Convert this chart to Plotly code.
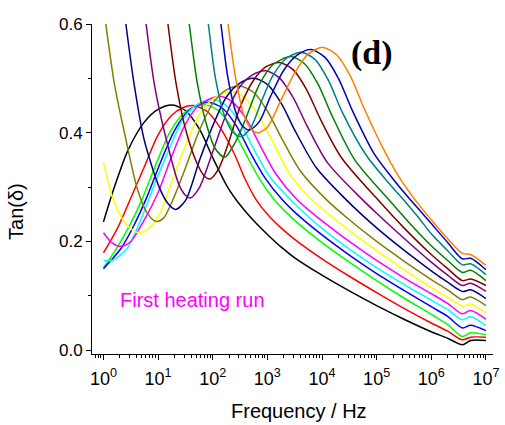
import plotly.graph_objects as go

# Dielectric loss tangent vs frequency, one isotherm per trace.
# Frequencies are stored as log10(f / Hz).

black_logf = [0.0, 0.2, 0.45, 0.75, 1.0, 1.26, 1.51, 1.76, 2.01, 2.26, 2.51, 2.76, 3.01, 3.26, 3.5, 4.0, 4.5, 5.0, 5.5, 6.0, 6.3, 6.57, 6.72, 7.0]
black_tan = [0.236, 0.300, 0.368, 0.420, 0.443, 0.451, 0.440, 0.406, 0.352, 0.302, 0.266, 0.237, 0.212, 0.189, 0.170, 0.138, 0.109, 0.082, 0.057, 0.034, 0.022, 0.010, 0.018, 0.018]

red_logf = [0.0, 0.25, 0.5, 0.75, 1.0, 1.25, 1.45, 1.65, 1.9, 2.15, 2.4, 2.6, 2.8, 3.0, 3.25, 3.5, 4.0, 4.5, 5.0, 5.5, 6.0, 6.3, 6.57, 6.72, 7.0]
red_tan = [0.179, 0.223, 0.280, 0.338, 0.396, 0.432, 0.446, 0.450, 0.439, 0.407, 0.360, 0.313, 0.276, 0.250, 0.225, 0.204, 0.168, 0.136, 0.106, 0.077, 0.050, 0.035, 0.019, 0.024, 0.024]

green_logf = [0.0, 0.2, 0.45, 0.7, 0.95, 1.2, 1.45, 1.65, 1.85, 2.1, 2.35, 2.6, 2.85, 3.1, 3.35, 3.6, 4.0, 4.5, 5.0, 5.5, 6.0, 6.3, 6.57, 6.72, 7.0]
green_tan = [0.152, 0.181, 0.224, 0.276, 0.339, 0.398, 0.434, 0.447, 0.452, 0.441, 0.409, 0.362, 0.316, 0.280, 0.253, 0.230, 0.198, 0.162, 0.128, 0.096, 0.066, 0.047, 0.025, 0.032, 0.0285]

blue_logf = [0.0, 0.32, 0.55, 0.8, 1.05, 1.3, 1.55, 1.75, 1.93, 2.18, 2.43, 2.68, 2.95, 3.27, 3.5, 4.0, 4.5, 5.0, 5.5, 6.0, 6.3, 6.57, 6.72, 7.0]
blue_tan = [0.150, 0.187, 0.228, 0.283, 0.347, 0.404, 0.440, 0.452, 0.456, 0.445, 0.413, 0.365, 0.318, 0.277, 0.254, 0.212, 0.175, 0.141, 0.110, 0.080, 0.062, 0.041, 0.046, 0.036]

cyan_logf = [0.0, 0.15, 0.3, 0.44, 0.7, 0.95, 1.2, 1.45, 1.7, 2.0, 2.25, 2.5, 2.75, 3.05, 3.42, 3.7, 4.0, 4.5, 5.0, 5.5, 6.0, 6.3, 6.57, 6.72, 7.0]
cyan_tan = [0.165, 0.165, 0.174, 0.188, 0.244, 0.309, 0.369, 0.424, 0.451, 0.461, 0.450, 0.418, 0.370, 0.318, 0.277, 0.250, 0.224, 0.186, 0.152, 0.121, 0.092, 0.075, 0.056, 0.062, 0.045]

magenta_logf = [0.0, 0.15, 0.32, 0.5, 0.75, 1.0, 1.25, 1.5, 1.75, 2.12, 2.37, 2.62, 2.87, 3.15, 3.54, 3.8, 4.0, 4.5, 5.0, 5.5, 6.0, 6.3, 6.57, 6.72, 7.0]
magenta_tan = [0.216, 0.198, 0.191, 0.200, 0.240, 0.290, 0.357, 0.416, 0.451, 0.467, 0.456, 0.424, 0.376, 0.325, 0.277, 0.254, 0.238, 0.200, 0.165, 0.133, 0.104, 0.086, 0.067, 0.073, 0.057]

yellow_logf = [0.0, 0.15, 0.3, 0.45, 0.65, 0.85, 1.05, 1.25, 1.5, 1.75, 2.0, 2.34, 2.59, 2.84, 3.09, 3.4, 3.78, 4.1, 4.5, 5.0, 5.5, 6.0, 6.3, 6.57, 6.72, 7.0]
yellow_tan = [0.345, 0.285, 0.250, 0.228, 0.216, 0.226, 0.255, 0.310, 0.376, 0.433, 0.462, 0.476, 0.464, 0.431, 0.385, 0.325, 0.280, 0.252, 0.220, 0.183, 0.148, 0.115, 0.097, 0.081, 0.085, 0.068]

olive_logf = [0.0, 0.043, 0.2, 0.384, 0.625, 0.8, 0.96, 1.1, 1.25, 1.5, 1.75, 2.0, 2.25, 2.5, 2.75, 3.0, 3.25, 3.6, 4.08, 4.5, 5.0, 5.5, 6.0, 6.3, 6.57, 6.72, 7.0]
olive_tan = [0.635, 0.600, 0.490, 0.400, 0.295, 0.252, 0.237, 0.243, 0.272, 0.335, 0.403, 0.454, 0.479, 0.486, 0.474, 0.440, 0.392, 0.330, 0.277, 0.240, 0.200, 0.164, 0.130, 0.111, 0.093, 0.098, 0.082]

navy_logf = [0.16, 0.29, 0.41, 0.56, 0.745, 1.02, 1.18, 1.32, 1.5, 1.76, 2.01, 2.26, 2.51, 2.76, 3.01, 3.26, 3.51, 3.9, 4.44, 5.0, 5.5, 6.0, 6.3, 6.57, 6.72, 7.0]
navy_tan = [0.82, 0.70, 0.600, 0.490, 0.387, 0.300, 0.270, 0.259, 0.275, 0.350, 0.415, 0.467, 0.492, 0.500, 0.488, 0.453, 0.403, 0.335, 0.277, 0.225, 0.184, 0.146, 0.125, 0.108, 0.111, 0.095]

purple_logf = [0.53, 0.66, 0.78, 0.93, 1.12, 1.38, 1.5, 1.59, 1.75, 2.0, 2.22, 2.47, 2.72, 2.97, 3.22, 3.47, 3.72, 4.1, 4.74, 5.0, 5.5, 6.0, 6.3, 6.57, 6.72, 7.0]
purple_tan = [0.82, 0.70, 0.600, 0.490, 0.400, 0.305, 0.285, 0.280, 0.298, 0.365, 0.427, 0.481, 0.506, 0.514, 0.501, 0.465, 0.414, 0.345, 0.277, 0.252, 0.206, 0.162, 0.138, 0.119, 0.123, 0.108]

wine_logf = [0.93, 1.06, 1.18, 1.33, 1.52, 1.72, 1.85, 1.95, 2.1, 2.3, 2.5, 2.75, 2.97, 3.22, 3.47, 3.72, 3.97, 4.35, 5.02, 5.5, 6.0, 6.3, 6.57, 6.72, 7.0]
wine_tan = [0.82, 0.70, 0.600, 0.490, 0.400, 0.342, 0.320, 0.315, 0.332, 0.385, 0.447, 0.497, 0.521, 0.529, 0.516, 0.479, 0.425, 0.355, 0.277, 0.225, 0.176, 0.150, 0.128, 0.131, 0.119]

dkgreen_logf = [1.32, 1.45, 1.57, 1.72, 1.9, 2.05, 2.22, 2.4, 2.6, 2.85, 3.1, 3.43, 3.68, 3.93, 4.18, 4.6, 5.22, 5.6, 6.0, 6.3, 6.57, 6.72, 7.0]
dkgreen_tan = [0.82, 0.70, 0.600, 0.490, 0.410, 0.370, 0.355, 0.380, 0.425, 0.488, 0.525, 0.540, 0.527, 0.489, 0.432, 0.350, 0.277, 0.234, 0.192, 0.165, 0.143, 0.147, 0.128]

teal_logf = [1.67, 1.80, 1.92, 2.05, 2.22, 2.38, 2.52, 2.7, 2.9, 3.1, 3.35, 3.62, 3.87, 4.12, 4.37, 4.8, 5.2, 5.5, 5.75, 6.0, 6.3, 6.57, 6.72, 7.0]
teal_tan = [0.82, 0.70, 0.600, 0.500, 0.430, 0.400, 0.393, 0.410, 0.460, 0.505, 0.537, 0.548, 0.535, 0.496, 0.438, 0.360, 0.310, 0.276, 0.246, 0.214, 0.183, 0.157, 0.159, 0.139]

royal_logf = [1.9, 2.03, 2.15, 2.28, 2.45, 2.57, 2.67, 2.85, 3.05, 3.3, 3.55, 3.8, 4.05, 4.3, 4.55, 4.95, 5.3, 5.59, 5.8, 6.0, 6.3, 6.57, 6.72, 7.0]
royal_tan = [0.82, 0.70, 0.600, 0.500, 0.430, 0.410, 0.405, 0.420, 0.465, 0.515, 0.543, 0.553, 0.539, 0.500, 0.442, 0.362, 0.315, 0.280, 0.256, 0.233, 0.198, 0.168, 0.169, 0.148]

orange_logf = [2.05, 2.17, 2.28, 2.42, 2.58, 2.72, 2.83, 3.0, 3.25, 3.5, 3.75, 4.02, 4.27, 4.52, 4.77, 5.1, 5.4, 5.7, 6.0, 6.3, 6.57, 6.72, 7.0]
orange_tan = [0.82, 0.70, 0.600, 0.500, 0.430, 0.405, 0.400, 0.410, 0.460, 0.510, 0.545, 0.557, 0.543, 0.504, 0.445, 0.375, 0.320, 0.277, 0.240, 0.205, 0.178, 0.176, 0.156]

series = [
    ("black", "#000000", black_logf, black_tan),
    ("red", "#FF0000", red_logf, red_tan),
    ("green", "#00FF00", green_logf, green_tan),
    ("blue", "#0000FF", blue_logf, blue_tan),
    ("cyan", "#00FFFF", cyan_logf, cyan_tan),
    ("magenta", "#FF00FF", magenta_logf, magenta_tan),
    ("yellow", "#FFFF00", yellow_logf, yellow_tan),
    ("olive", "#808000", olive_logf, olive_tan),
    ("navy", "#000080", navy_logf, navy_tan),
    ("purple", "#800080", purple_logf, purple_tan),
    ("wine", "#800000", wine_logf, wine_tan),
    ("dark green", "#008000", dkgreen_logf, dkgreen_tan),
    ("dark cyan", "#008080", teal_logf, teal_tan),
    ("royal", "#0000C0", royal_logf, royal_tan),
    ("orange", "#FF8000", orange_logf, orange_tan),
]

fig = go.Figure()
for name, color, logf, tan in series:
    fig.add_trace(go.Scatter(
        x=[10 ** e for e in logf], y=tan, mode="lines", name=name,
        line=dict(color=color, width=1.5, shape="spline", smoothing=0.8),
        showlegend=False,
    ))

decades = list(range(0, 8))
x_tickvals = [10 ** d for d in decades]
x_ticktext = ["10<sup>%d</sup>" % d for d in decades]
x_minor = [m * 10 ** d for d in range(-1, 7) for m in range(2, 10)]

font = "Liberation Sans, Arial, sans-serif"
fig.update_layout(
    width=505, height=425,
    margin=dict(l=92, r=6, t=24, b=71),
    paper_bgcolor="white", plot_bgcolor="white",
    font=dict(family=font, color="black"),
    xaxis=dict(
        type="log", range=[-0.21, 7.13],
        tickmode="array", tickvals=x_tickvals, ticktext=x_ticktext,
        tickfont=dict(size=18),
        ticks="outside", ticklen=5, tickwidth=1, tickcolor="black",
        ticklabelstandoff=3, ticklabeloverflow="allow",
        minor=dict(tickmode="array", tickvals=x_minor, ticks="outside",
                   ticklen=3, tickwidth=1, tickcolor="black"),
        showline=True, linecolor="black", linewidth=1,
        showgrid=False, zeroline=False,
    ),
    yaxis=dict(
        range=[-0.007, 0.6],
        tickmode="array", tickvals=[0.0, 0.2, 0.4, 0.6],
        ticktext=["0.0", "0.2", "0.4", "0.6"],
        tickfont=dict(size=17),
        ticks="outside", ticklen=5, tickwidth=1, tickcolor="black",
        ticklabeloverflow="allow",
        minor=dict(tickmode="array", tickvals=[0.1, 0.3, 0.5], ticks="outside",
                   ticklen=3, tickwidth=1, tickcolor="black"),
        showline=True, linecolor="black", linewidth=1,
        showgrid=False, zeroline=False,
    ),
    annotations=[
        dict(text="Frequency / Hz", xref="paper", yref="paper", x=0.516, y=-0.173,
             xanchor="center", yanchor="middle", showarrow=False,
             font=dict(size=20, family=font)),
        dict(text="Tan(δ)", xref="paper", yref="paper", x=-0.19, y=0.433,
             xanchor="center", yanchor="middle", showarrow=False, textangle=-90,
             font=dict(size=20, family=font)),
        dict(text="<b>(d)</b>", xref="paper", yref="paper", x=0.698, y=0.912,
             xanchor="center", yanchor="middle", showarrow=False,
             bgcolor="white", borderpad=0,
             font=dict(size=34, family="Liberation Serif, Times New Roman, serif")),
        dict(text="First heating run", xref="paper", yref="paper", x=0.064, y=0.164,
             xanchor="left", yanchor="middle", showarrow=False,
             font=dict(size=20, family=font, color="#FF00FF")),
    ],
)

fig.write_html("out.html")
